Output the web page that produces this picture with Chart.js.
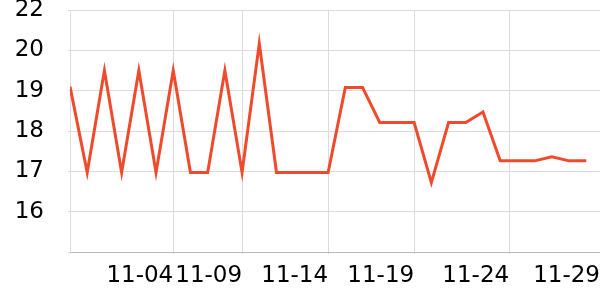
<!DOCTYPE html>
<html>
<head>
<meta charset="utf-8">
<script src="https://cdn.jsdelivr.net/npm/chart.js@4/dist/chart.umd.min.js"></script>
<style>
html,body{margin:0;padding:0;background:#fff;}
#wrap{width:600px;height:300px;position:relative;}
</style>
</head>
<body>
<div id="wrap"><canvas id="c"></canvas></div>
<script>
const values = [19.1, 16.97, 19.5, 16.97, 19.5, 16.97, 19.5, 16.97, 16.97, 19.5, 16.97, 20.17, 16.97, 16.97, 16.97, 16.97, 19.08, 19.08, 18.21, 18.21, 18.21, 16.72, 18.21, 18.21, 18.47, 17.26, 17.26, 17.26, 17.36, 17.26, 17.26];
const xTickPositions = [0, 6, 10, 15, 20, 25.52, 30.8];
const xTickLabels = ['', '11-04', '11-09', '11-14', '11-19', '11-24', '11-29'];
const yTickValues = [15, 16, 17, 18, 19, 20, 21];
const yTickLabels = ['', '16', '17', '18', '19', '20', '22'];

const font = {family: 'DejaVu Sans', size: 23};
new Chart(document.getElementById('c'), {
  type: 'line',
  data: {
    datasets: [{
      data: values.map((v, i) => ({x: i, y: v})),
      borderColor: '#ef4a2c',
      borderWidth: 3,
      pointRadius: 0,
      tension: 0,
      fill: false
    }]
  },
  options: {
    responsive: true,
    maintainAspectRatio: false,
    animation: false,
    layout: {padding: {top: 10, right: 0, left: 0, bottom: 0}},
    plugins: {legend: {display: false}, tooltip: {enabled: false}},
    scales: {
      x: {
        type: 'linear',
        min: 0,
        max: 30.8,
        afterBuildTicks: s => { s.ticks = xTickPositions.map(v => ({value: v})); },
        afterFit: s => { s.height = 48; s.paddingLeft = 0; s.paddingRight = 0; },
        ticks: {
          font: font,
          color: '#000',
          align: 'end',
          maxRotation: 0,
          autoSkip: false,
          padding: 8,
          callback: (v, i) => xTickLabels[i]
        },
        grid: {color: '#dcdcdc', tickLength: 2, lineWidth: 1},
        border: {color: '#b8b8b8'}
      },
      y: {
        type: 'linear',
        min: 15,
        max: 21,
        afterBuildTicks: s => { s.ticks = yTickValues.map(v => ({value: v})); },
        afterFit: s => { s.width = 70; s.paddingTop = 0; s.paddingBottom = 0; },
        ticks: {
          font: font,
          color: '#000',
          padding: 24,
          callback: (v, i) => yTickLabels[i]
        },
        grid: {color: '#dcdcdc', tickLength: 2, lineWidth: 1},
        border: {color: '#dcdcdc'}
      }
    }
  }
});
</script>
</body>
</html>
